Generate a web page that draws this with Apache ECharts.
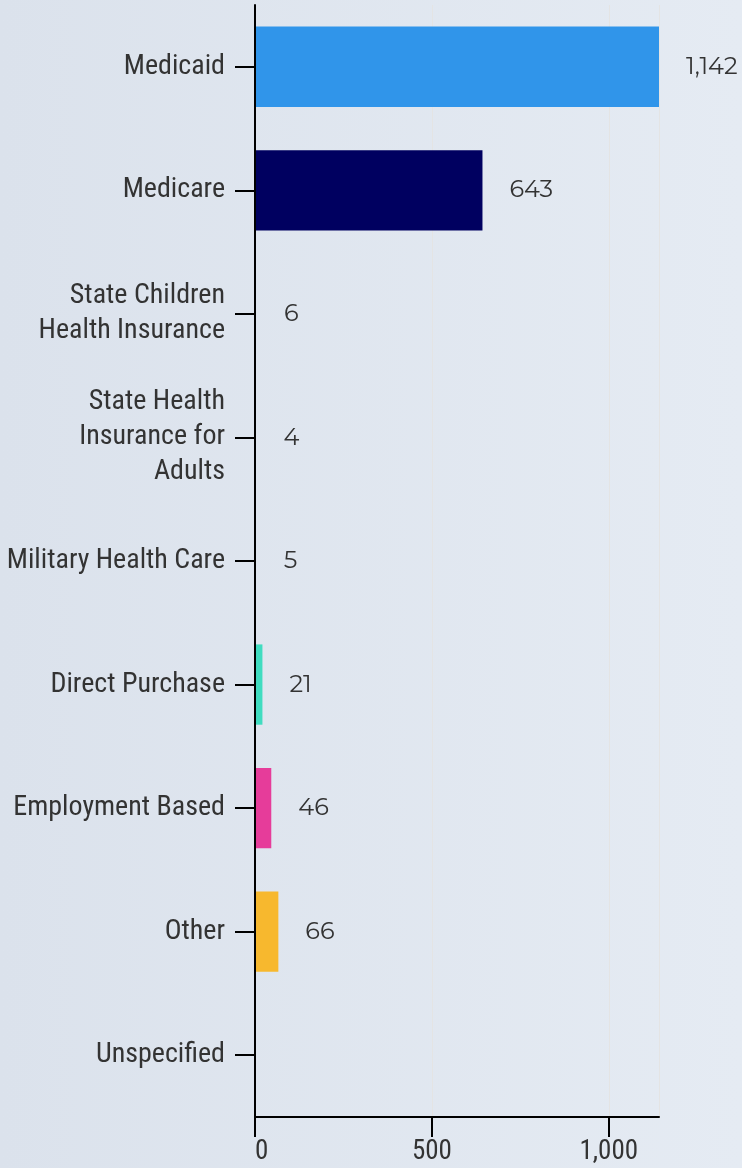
<!DOCTYPE html>
<html>
<head>
<meta charset="utf-8">
<script src="https://cdn.jsdelivr.net/npm/echarts@6/dist/echarts.min.js"></script>
<style>
  html, body { margin: 0; padding: 0; }
  body { background: linear-gradient(to right, #dbe2ec, #e5ebf3); }
  #chart { width: 742px; height: 1168px; }
</style>
</head>
<body>
<div id="chart"></div>
<script>
// categories, top to bottom
const categories = [
  'Medicaid',
  'Medicare',
  'State Children\nHealth Insurance',
  'State Health\nInsurance for\nAdults',
  'Military Health Care',
  'Direct Purchase',
  'Employment Based',
  'Other',
  'Unspecified'
];
const values = [1142, 643, 6, 4, 5, 21, 46, 66, null];
// the three tiny bars are hidden behind the axis in the original
const barColors = ['#3095ea', '#000060', '#dde4ee', '#dde4ee', '#dde4ee', '#40dcc0', '#e63c9a', '#f7b82e', '#999999'];
const xTicks = [0, 500, 1000];

const labelFont = "'Roboto Condensed', 'Liberation Sans Narrow', 'DejaVu Sans Condensed', Roboto, sans-serif";

const chart = echarts.init(document.getElementById('chart'));

chart.setOption({
  backgroundColor: 'transparent',
  animation: false,
  grid: { left: 255, right: 83, top: 5, bottom: 51, containLabel: false },
  xAxis: {
    type: 'value',
    min: 0,
    max: 'dataMax',
    interval: 500,
    axisLine: { show: true, lineStyle: { color: '#000', width: 2 } },
    axisTick: { show: true, length: 20, lineStyle: { color: '#000', width: 2 } },
    axisLabel: {
      fontFamily: labelFont,
      fontSize: 27,
      color: '#333',
      margin: 22,
      showMaxLabel: false,
      alignMinLabel: 'left',
      formatter: v => xTicks.includes(v) ? v.toLocaleString('en-US') : ''
    },
    splitLine: { show: true, lineStyle: { color: '#e4e4e4', width: 1 } }
  },
  yAxis: {
    type: 'category',
    inverse: true,
    data: categories,
    axisLine: { show: true, lineStyle: { color: '#000', width: 2 } },
    axisTick: { show: true, length: 20, alignWithLabel: true, lineStyle: { color: '#000', width: 2 } },
    axisLabel: {
      fontFamily: labelFont,
      fontSize: 28,
      lineHeight: 35,
      color: '#333',
      margin: 30,
      align: 'right',
      padding: [6, 0, 0, 0]
    },
    z: 10
  },
  series: [{
    type: 'bar',
    data: values.map((v, i) => ({ value: v, itemStyle: { color: barColors[i] } })),
    barCategoryGap: '35%',
    label: {
      show: true,
      position: 'right',
      distance: 27,
      fontFamily: "'Montserrat', 'Noto Sans', sans-serif",
      fontSize: 24,
      color: '#333',
      padding: [6, 0, 0, 0],
      formatter: p => p.value == null ? '' : p.value.toLocaleString('en-US')
    }
  }]
});
</script>
</body>
</html>
